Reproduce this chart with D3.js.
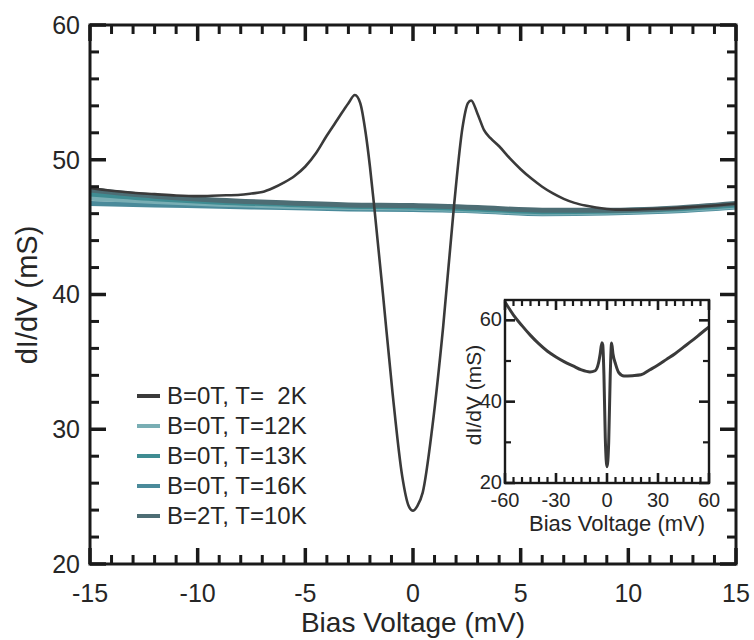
<!DOCTYPE html>
<html><head><meta charset="utf-8">
<script src="https://cdn.jsdelivr.net/npm/d3@7"></script>
<style>
body{margin:0;background:#fff;}
svg{display:block;}
text{font-family:"Liberation Sans",Arial,Helvetica,sans-serif;fill:#262626;}
</style>
</head><body>
<svg id="chart" width="754" height="640"></svg>
<script>
// ---------- DATA ----------
// Main panel: B=0T, T=2K
const bias2K  = [-15,-14,-13,-12,-11,-10,-9,-8,-7.5,-7,-6.5,-6,-5.5,-5,-4.5,-4,-3.5,-3,-2.7,-2.45,-2.2,-2.0,-1.8,-1.4,-0.95,-0.5,-0.2,0,0.2,0.45,0.9,1.4,1.9,2.3,2.55,2.7,3.0,3.3,3.6,4.0,4.5,5,5.5,6,6.5,7,7.5,8,8.5,9,9.5,10,11,12,13,14,15];
const dIdV2K  = [47.9,47.7,47.55,47.45,47.35,47.3,47.35,47.4,47.5,47.6,47.9,48.3,48.8,49.5,50.5,51.8,53.0,54.2,54.8,54.2,52.0,49.5,46.5,40.1,32.7,26.5,24.3,23.95,24.3,25.3,30.2,37.6,46.5,52.4,54.2,54.4,53.4,52.2,51.6,51.0,50.1,49.3,48.6,48.0,47.5,47.1,46.8,46.6,46.45,46.35,46.3,46.3,46.35,46.4,46.5,46.6,46.75];
// Main panel: warmer / field curves (common bias grid)
const biasWarm   = [-15,-12,-9,-6,-3,0,3,6,9,12,15];
const dIdV12K    = [47.15,46.9,46.7,46.55,46.45,46.4,46.25,46.05,46.1,46.25,46.55];
const dIdV13K    = [47.45,47.1,46.85,46.7,46.55,46.5,46.35,46.15,46.2,46.35,46.65];
const dIdV16K    = [46.75,46.65,46.55,46.45,46.35,46.3,46.2,46.0,46.05,46.2,46.5];
const dIdV2T10K  = [47.75,47.3,47.0,46.8,46.65,46.6,46.45,46.25,46.25,46.4,46.75];
const legendLabels = ["B=0T, T=  2K","B=0T, T=12K","B=0T, T=13K","B=0T, T=16K","B=2T, T=10K"];
// Inset: wide bias sweep, B=0T, T=2K
const biasInset = [-60,-55,-50,-45,-40,-35,-30,-25,-20,-15,-10,-7,-5,-4,-3,-2.5,-1.8,-1,0,1,1.9,2.7,3.5,5,7,10,15,20,25,30,35,40,45,50,55,60];
const dIdVInset = [64.5,61.3,58.7,56.3,54.2,52.4,51.0,49.8,48.8,47.8,47.3,47.6,49.5,51.8,54.5,54.0,46.5,31,24,30,46.5,54.4,51.8,49.3,47.1,46.3,46.4,46.6,47.8,49.0,50.4,51.8,53.4,55.0,56.7,58.4];
// Tick values
const xMajorMain = [-15,-10,-5,0,5,10,15];
const xMinorMain = [-14,-13,-12,-11,-9,-8,-7,-6,-4,-3,-2,-1,1,2,3,4,6,7,8,9,11,12,13,14];
const yMajorMain = [20,30,40,50,60];
const yMinorMain = [22,24,26,28,32,34,36,38,42,44,46,48,52,54,56,58];
const xMajorInset = [-60,-30,0,30,60];
const xMinorInset = [-55,-50,-45,-40,-35,-25,-20,-15,-10,-5,5,10,15,20,25,35,40,45,50,55];
const yMajorInset = [20,40,60];
const yMinorInset = [30,50];

// ---------- DRAW ----------
const svg = d3.select("#chart");
const svgNode = svg.node();
const NS = "http://www.w3.org/2000/svg";
const FONT = '"Liberation Sans",Arial,sans-serif';
const INK = "#1a1a1a";

const x = d3.scaleLinear().domain([-15,15]).range([90,736]);
const y = d3.scaleLinear().domain([20,60]).range([564,25]);

// inward ticks for one panel, plain DOM lines
function panelTicks(sx, sy, xMaj, xMin, yMaj, yMin, lMaj, lMin, wMaj, wMin){
  const [x0,x1] = sx.range(), [y0,y1] = sy.range();
  const grp = document.createElementNS(NS, "g");
  const seg = (ax, ay, bx, by, w) => {
    const l = document.createElementNS(NS, "line");
    l.setAttribute("x1", ax); l.setAttribute("y1", ay);
    l.setAttribute("x2", bx); l.setAttribute("y2", by);
    l.setAttribute("stroke", INK); l.setAttribute("stroke-width", w);
    grp.appendChild(l);
  };
  [[xMaj,lMaj,wMaj],[xMin,lMin,wMin]].forEach(([vals,len,w]) => vals.forEach(v => {
    const px = sx(v);
    seg(px, y0, px, y0 - len, w);
    seg(px, y1, px, y1 + len, w);
  }));
  [[yMaj,lMaj,wMaj],[yMin,lMin,wMin]].forEach(([vals,len,w]) => vals.forEach(v => {
    const py = sy(v);
    seg(x0, py, x0 + len, py, w);
    seg(x1, py, x1 - len, py, w);
  }));
  svgNode.appendChild(grp);
}

// curves
const line = d3.line().x(d => x(d[0])).y(d => y(d[1])).curve(d3.curveMonotoneX);
const warmSeries = [
  {vals:dIdV16K, color:"#4a8a9a"},
  {vals:dIdV12K, color:"#79aeb4"},
  {vals:dIdV13K, color:"#3f8c92"},
  {vals:dIdV2T10K, color:"#4d6d74"}
];
const gCurves = svg.append("g");
warmSeries.forEach(s => {
  gCurves.append("path")
    .datum(biasWarm.map((b,i)=>[b,s.vals[i]]))
    .attr("d",line).attr("fill","none")
    .attr("stroke",s.color).attr("stroke-width",5);
});
gCurves.append("path")
  .datum(bias2K.map((b,i)=>[b,dIdV2K[i]]))
  .attr("d",line).attr("fill","none")
  .attr("stroke","#3a3a3a").attr("stroke-width",2.6).attr("stroke-linejoin","round");

// frame
svg.append("rect").attr("x",90).attr("y",25).attr("width",646).attr("height",539)
  .attr("fill","none").attr("stroke",INK).attr("stroke-width",3);

// tick labels
svg.append("g").selectAll("text").data(xMajorMain).join("text")
  .attr("x", d => x(d)).attr("y", 602).attr("text-anchor","middle")
  .attr("font-size",25).style("font-family",FONT).text(d => String(d));
svg.append("g").selectAll("text").data(yMajorMain).join("text")
  .attr("x", 80).attr("y", d => y(d)).attr("dy","0.35em").attr("text-anchor","end")
  .attr("font-size",25).style("font-family",FONT).text(d => String(d));

// axis titles
svg.append("text").attr("x",413).attr("y",632).attr("text-anchor","middle")
  .attr("font-size",28).text("Bias Voltage (mV)");
svg.append("text").attr("transform","translate(37,295) rotate(-90)").attr("text-anchor","middle")
  .attr("font-size",29).text("dI/dV (mS)");

// legend
const legColors = ["#3a3a3a","#79aeb4","#3f8c92","#4a8a9a","#4d6d74"];
const gLeg = svg.append("g");
legendLabels.forEach((lab,i) => {
  const yy = 396 + i*30;
  gLeg.append("line").attr("x1",137).attr("x2",160).attr("y1",yy).attr("y2",yy)
    .attr("stroke",legColors[i]).attr("stroke-width",4);
  gLeg.append("text").attr("x",167).attr("y",yy).attr("dy","0.35em")
    .attr("font-size",24).style("white-space","pre").text(lab);
});

// ---------- INSET ----------
const xi = d3.scaleLinear().domain([-60,60]).range([505,709]);
const yi = d3.scaleLinear().domain([20,65]).range([483,300]);
svg.append("rect").attr("x",505).attr("y",300).attr("width",204).attr("height",183).attr("fill","#fff");
const linei = d3.line().x(d => xi(d[0])).y(d => yi(d[1])).curve(d3.curveMonotoneX);
svg.append("path").datum(biasInset.map((b,i)=>[b,dIdVInset[i]]))
  .attr("d",linei).attr("fill","none").attr("stroke","#3a3a3a").attr("stroke-width",3).attr("stroke-linejoin","round");
svg.append("rect").attr("x",505).attr("y",300).attr("width",204).attr("height",183)
  .attr("fill","none").attr("stroke",INK).attr("stroke-width",2.4);
svg.append("g").selectAll("text").data(xMajorInset).join("text")
  .attr("x", d => xi(d)).attr("y", 507).attr("text-anchor","middle")
  .attr("font-size",20).style("font-family",FONT).text(d => String(d));
svg.append("g").selectAll("text").data(yMajorInset).join("text")
  .attr("x", 502).attr("y", d => yi(d)).attr("dy","0.3em").attr("text-anchor","end")
  .attr("font-size",20).style("font-family",FONT).text(d => String(d));
svg.append("text").attr("x",617).attr("y",531).attr("text-anchor","middle")
  .attr("font-size",22).text("Bias Voltage (mV)");
svg.append("text").attr("transform","translate(481,395) rotate(-90)").attr("text-anchor","middle")
  .attr("font-size",21).text("dI/dV (mS)");

// ticks last, on top of everything
panelTicks(x, y, xMajorMain, xMinorMain, yMajorMain, yMinorMain, 16, 9, 3.5, 3);
panelTicks(xi, yi, xMajorInset, xMinorInset, yMajorInset, yMinorInset, 10, 6, 2.6, 2.2);
</script>
</body></html>
